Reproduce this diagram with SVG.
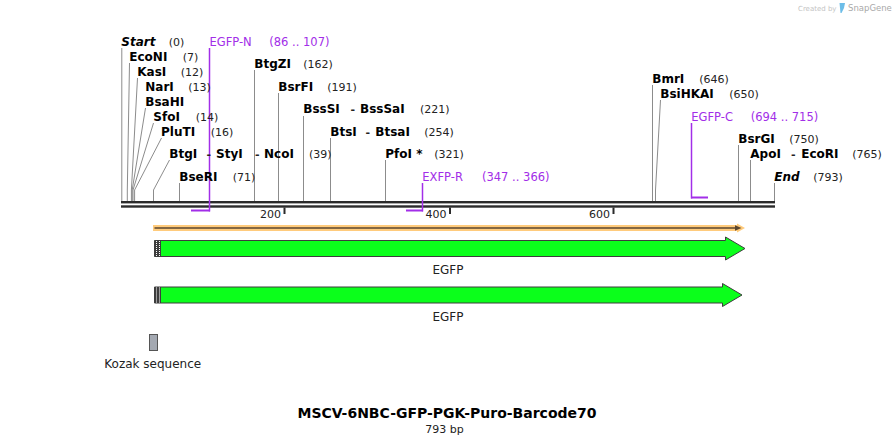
<svg xmlns="http://www.w3.org/2000/svg" width="896" height="445" viewBox="0 0 896 445">
<style>
.n{font-family:"DejaVu Sans",Verdana,sans-serif;font-weight:bold;font-size:12px;fill:#000}
.ni{font-family:"DejaVu Sans",Verdana,sans-serif;font-weight:bold;font-style:italic;font-size:12px;fill:#000}
.p{font-family:"DejaVu Sans",Verdana,sans-serif;font-size:11px;fill:#222}
.d{font-family:"DejaVu Sans",Verdana,sans-serif;font-weight:bold;font-size:11px;fill:#222}
.pr{font-family:"DejaVu Sans",Verdana,sans-serif;font-size:11.5px;fill:#a22ee8}
.t{font-family:"DejaVu Sans",Verdana,sans-serif;font-size:11px;fill:#222}
.f{font-family:"DejaVu Sans",Verdana,sans-serif;font-size:12px;fill:#222}
.c{fill:none;stroke:#8c8c8c;stroke-width:1}
.pl{fill:none;stroke:#a22ee8;stroke-width:1.5}
.pb{fill:#a22ee8}
.g{fill:#0bff1b;stroke:#3d3d3d;stroke-width:1}
.rl{fill:#2b2b2b}
.hz{stroke:#fff;stroke-width:1;stroke-dasharray:1 1}
</style>

<g id="snapgene-credit">
  <text x="798" y="10.5" style="font-family:'DejaVu Sans',sans-serif;font-size:7px;fill:#c4c4c4">Created by</text>
  <path d="M839.5,3 L845,3 L844,8 L841.5,13 L840.5,13 Z" fill="#6cbde8"/>
  <text x="848" y="11" style="font-family:'DejaVu Sans',sans-serif;font-size:8.5px;fill:#a9a9a9">SnapGene</text>
</g>

<g id="connectors">
  <path class="c" d="M121.8,48 V201"/>
  <path class="c" d="M129.5,63 L127.3,190 V201"/>
  <path class="c" d="M137.5,78 L131.4,190 V201"/>
  <path class="c" d="M145.5,108 L132.2,190 V201"/>
  <path class="c" d="M153.5,123 L133,190 V201"/>
  <path class="c" d="M161.5,138 L134.6,190 V201"/>
  <path class="c" d="M169.5,160 L153.5,190 V201"/>
  <path class="c" d="M179.5,183 V201"/>
  <path class="c" d="M254.5,70 V201"/>
  <path class="c" d="M278.5,93 V201"/>
  <path class="c" d="M303.5,116 V201"/>
  <path class="c" d="M330.5,138 V201"/>
  <path class="c" d="M385.5,160 V201"/>
  <path class="c" d="M652.5,85 V201"/>
  <path class="c" d="M660.5,100 L655.5,190 V201"/>
  <path class="c" d="M738.5,145 V201"/>
  <path class="c" d="M750.5,160 V201"/>
  <path class="c" d="M774.5,183 V201"/>
</g>

<g id="ruler">
  <rect class="rl" x="121" y="201" width="654" height="2.4"/>
  <rect class="rl" x="121" y="205.3" width="654" height="2.4"/>
  <rect class="rl" x="283.5" y="207.5" width="2" height="6.5"/>
  <rect class="rl" x="449" y="207.5" width="2" height="6.5"/>
  <rect class="rl" x="612.5" y="207.5" width="2" height="6.5"/>
  <text class="t" x="281" y="218" text-anchor="end">200</text>
  <text class="t" x="446.5" y="218" text-anchor="end">400</text>
  <text class="t" x="610" y="218" text-anchor="end">600</text>
</g>

<g id="primer-EGFP-N">
  <path class="pl" d="M209.5,48 V211.5"/>
  <rect class="pb" x="191" y="209.5" width="19" height="2"/>
  <text class="pr" x="209.5" y="46">EGFP-N</text>
  <text class="pr" x="269.3" y="46">(86 .. 107)</text>
</g>
<g id="primer-EXFP-R">
  <path class="pl" d="M422.5,183 V211.5"/>
  <rect class="pb" x="406" y="209.5" width="17" height="2"/>
  <text class="pr" x="422.3" y="181">EXFP-R</text>
  <text class="pr" x="482" y="181">(347 .. 366)</text>
</g>
<g id="primer-EGFP-C">
  <path class="pl" d="M691.5,123 V198.5"/>
  <rect class="pb" x="691" y="196.5" width="17" height="2"/>
  <text class="pr" x="691.3" y="121">EGFP-C</text>
  <text class="pr" x="750.7" y="121">(694 .. 715)</text>
</g>

<g id="site-Start"><text class="ni" x="121.3" y="46">Start</text><text class="p" x="168.7" y="46">(0)</text></g>
<g id="site-EcoNI"><text class="n" x="129.3" y="61">EcoNI</text><text class="p" x="182.7" y="61">(7)</text></g>
<g id="site-KasI"><text class="n" x="137.3" y="76">KasI</text><text class="p" x="180.7" y="76">(12)</text></g>
<g id="site-NarI"><text class="n" x="145.3" y="91">NarI</text><text class="p" x="188.3" y="91">(13)</text></g>
<g id="site-BsaHI"><text class="n" x="145.3" y="106">BsaHI</text></g>
<g id="site-SfoI"><text class="n" x="153.3" y="121">SfoI</text><text class="p" x="195.7" y="121">(14)</text></g>
<g id="site-PluTI"><text class="n" x="161" y="136">PluTI</text><text class="p" x="210.7" y="136">(16)</text></g>
<g id="site-BtgI-StyI-NcoI">
  <text class="n" x="169.3" y="158">BtgI</text><text class="d" x="206.5" y="158">-</text>
  <text class="n" x="216" y="158">StyI</text><text class="d" x="255" y="158">-</text>
  <text class="n" x="264" y="158">NcoI</text><text class="p" x="309" y="158">(39)</text>
</g>
<g id="site-BseRI"><text class="n" x="179.3" y="181">BseRI</text><text class="p" x="232.7" y="181">(71)</text></g>
<g id="site-BtgZI"><text class="n" x="254.3" y="68">BtgZI</text><text class="p" x="303.3" y="68">(162)</text></g>
<g id="site-BsrFI"><text class="n" x="278.3" y="90.5">BsrFI</text><text class="p" x="327.3" y="90.5">(191)</text></g>
<g id="site-BssSI-BssSaI">
  <text class="n" x="303.3" y="113">BssSI</text><text class="d" x="350.5" y="113">-</text>
  <text class="n" x="360" y="113">BssSaI</text><text class="p" x="420" y="113">(221)</text>
</g>
<g id="site-BtsI-BtsaI">
  <text class="n" x="330.3" y="135.5">BtsI</text><text class="d" x="365.5" y="135.5">-</text>
  <text class="n" x="375.3" y="135.5">BtsaI</text><text class="p" x="424.3" y="135.5">(254)</text>
</g>
<g id="site-PfoI"><text class="n" x="385.3" y="158">PfoI *</text><text class="p" x="434.3" y="158">(321)</text></g>
<g id="site-BmrI"><text class="n" x="652.3" y="83">BmrI</text><text class="p" x="699.3" y="83">(646)</text></g>
<g id="site-BsiHKAI"><text class="n" x="660.3" y="97.5">BsiHKAI</text><text class="p" x="729.3" y="97.5">(650)</text></g>
<g id="site-BsrGI"><text class="n" x="738.3" y="143">BsrGI</text><text class="p" x="789.3" y="143">(750)</text></g>
<g id="site-ApoI-EcoRI">
  <text class="n" x="750.3" y="158">ApoI</text><text class="d" x="791" y="158">-</text>
  <text class="n" x="801.3" y="158">EcoRI</text><text class="p" x="852.3" y="158">(765)</text>
</g>
<g id="site-End"><text class="ni" x="774.3" y="180.5">End</text><text class="p" x="813.3" y="180.5">(793)</text></g>

<g id="orf">
  <polygon points="153,225 737,225 737,223.5 745,228 737,232.5 737,231 153,231" fill="#ffcb7c"/>
  <path d="M154.5,228 H737" stroke="#5a4630" stroke-width="1.6" fill="none"/>
  <polygon points="735,225.3 741.5,228 735,230.7" fill="#5a4630"/>
</g>

<g id="feature-EGFP-1">
  <polygon class="g" points="154.5,240.5 725.5,240.5 725.5,237 745,248.5 725.5,260 725.5,256.5 154.5,256.5"/>
  <rect x="154.5" y="240.5" width="6.5" height="16" fill="#3d3d3d"/>
  <path class="hz" d="M156.5,241 V256"/>
  <path class="hz" d="M159.5,241 V256"/>
  <text class="f" x="448" y="274" text-anchor="middle">EGFP</text>
</g>
<g id="feature-EGFP-2">
  <polygon class="g" points="154.5,287 722.5,287 722.5,283.5 742,295 722.5,306.5 722.5,303 154.5,303"/>
  <rect x="154.5" y="287" width="6.5" height="16" fill="#3d3d3d"/>
  <path class="hz" d="M156.5,287.5 V302.5"/>
  <path class="hz" d="M159.5,287.5 V302.5"/>
  <text class="f" x="448" y="321" text-anchor="middle">EGFP</text>
</g>

<g id="legend-kozak">
  <rect x="149.5" y="334.5" width="8" height="16" fill="#a4a9b2" stroke="#555" stroke-width="1"/>
  <text class="f" x="104.3" y="367.5">Kozak sequence</text>
</g>

<g id="title">
  <text x="447" y="418" text-anchor="middle" style="font-family:'DejaVu Sans',Verdana,sans-serif;font-weight:bold;font-size:14px;fill:#000">MSCV-6NBC-GFP-PGK-Puro-Barcode70</text>
  <text x="444.5" y="432.5" text-anchor="middle" style="font-family:'DejaVu Sans',Verdana,sans-serif;font-size:11px;fill:#222">793 bp</text>
</g>
</svg>
